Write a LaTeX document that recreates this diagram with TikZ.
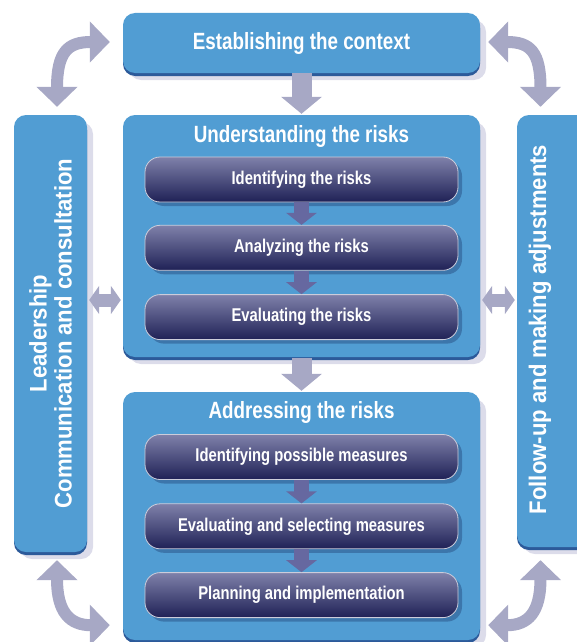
\documentclass[tikz,border=0pt]{standalone}
\usepackage{fontspec}
\setmainfont{Liberation Sans}[FakeStretch=0.8]
\newfontfamily\sidefont{Liberation Sans}[FakeStretch=0.92]
\usetikzlibrary{positioning,arrows.meta,calc,shadows}
\definecolor{boxblue}{HTML}{519DD3}
\definecolor{boxedge}{HTML}{2C5A9A}
\definecolor{tasknavy}{HTML}{35386F}
\definecolor{tasktop}{HTML}{7F81AA}
\definecolor{taskbot}{HTML}{1F2156}
\definecolor{arrowgray}{HTML}{A7A8C5}
\definecolor{taskarrowcol}{HTML}{6668A0}
\definecolor{haze}{HTML}{DCDCEA}
\tikzset{
    every node/.style={text=white,inner sep=0pt},
    stagebox/.style={rounded corners=12pt,fill=boxblue,minimum width=357pt,
        general shadow={fill=haze,shadow xshift=6pt,shadow yshift=-7pt},
        general shadow={fill=boxedge,shadow yshift=-3pt}},
    sidebox/.style={stagebox,minimum width=73pt},
    taskbox/.style={rounded corners=15pt,draw=white!75!tasknavy,line width=0.8pt,
        top color=tasktop,middle color=tasknavy,bottom color=taskbot,
        minimum width=313pt,minimum height=45pt,
        font=\fontsize{18.5}{21}\selectfont\bfseries,
        general shadow={fill=boxedge!80!black,opacity=0.45,shadow xshift=4pt,shadow yshift=-4pt}},
    stagetitle/.style={font=\fontsize{23.5}{26}\selectfont\bfseries},
    sidetext/.style={font=\sidefont\fontsize{24}{25}\selectfont\bfseries,align=center,rotate=90},
    flowarrow/.style={draw=arrowgray,line width=20pt,-{Triangle[width=40pt,length=17pt]}},
    taskarrow/.style={draw=taskarrowcol,line width=15pt,-{Triangle[width=30pt,length=12pt]}},
    linkarrow/.style={draw=arrowgray,line width=13pt,{Triangle[width=28pt,length=10pt]}-{Triangle[width=28pt,length=10pt]}},
    cornerarrow/.style={draw=arrowgray,line width=12pt,{Triangle[width=40pt,length=20pt]}-{Triangle[width=40pt,length=20pt]}}
}

\begin{document}
\begin{tikzpicture}[x=1pt,y=-1pt]
\useasboundingbox (0,0) rectangle (577,642);

% side boxes
\node[sidebox,minimum height=437pt] (lead) at (50.5,333.5) {};
\node[sidetext] (leadt) at (lead) {Leadership\\Communication and consultation};
\node[sidebox,minimum width=75pt,minimum height=432pt] (fol) at (554.5,331) {};
\node[sidetext] (folt) at (540,329.5) {Follow-up and making adjustments};

% main column
\node[stagebox,minimum height=60pt,stagetitle] (ctx) at (301.5,43) {Establishing the context};
\node[stagebox,minimum height=242pt] (und) at (301.5,236) {};
\node[stagetitle] (undt) at ($(und.north)+(0,22)$) {Understanding the risks};
\node[stagebox,minimum height=248pt] (adr) at (301.5,516) {};
\node[stagetitle] (adrt) at ($(adr.north)+(0,21)$) {Addressing the risks};

\node[taskbox] (idr) at (301.5,179.5) {Identifying the risks};
\node[taskbox,below=22.5pt of idr] (anr) {Analyzing the risks};
\node[taskbox,below=23.5pt of anr] (evr) {Evaluating the risks};

\node[taskbox] (idm) at (301.5,457) {Identifying possible measures};
\node[taskbox,below=23.5pt of idm] (evm) {Evaluating and selecting measures};
\node[taskbox,below=23pt of evm] (plm) {Planning and implementation};

% arrows
\draw[flowarrow] (ctx.south) -- ([yshift=1pt]und.north);
\draw[flowarrow] ([yshift=-1pt]und.south) -- ([yshift=1pt]adr.north);
\foreach \a/\b in {idr/anr,anr/evr,idm/evm,evm/plm}
    \draw[taskarrow] (\a.south) -- (\b.north);

\coordinate (midlink) at (0,300);
\draw[linkarrow] ([xshift=2pt]lead.east |- midlink) -- ([xshift=-2pt]und.west |- midlink);
\draw[linkarrow] ([xshift=2pt]und.east |- midlink) -- ([xshift=-2pt]fol.west |- midlink);

\draw[cornerarrow] ($(lead.north)+(6.5,-8)$) .. controls +(0,-55) and +(-42,0) .. ($(ctx.west)+(-13,-1)$);
\draw[cornerarrow] ($(fol.north)+(-14,-8)$) .. controls +(0,-55) and +(42,0) .. ($(ctx.east)+(8,-1)$);
\draw[cornerarrow] ($(lead.south)+(6.5,8)$) .. controls +(0,52) and +(-40,0) .. ($(adr.south west)+(-13,-15)$);
\draw[cornerarrow] ($(fol.south)+(-14,13)$) .. controls +(0,52) and +(40,0) .. ($(adr.south east)+(8,-15)$);
\end{tikzpicture}
\end{document}
